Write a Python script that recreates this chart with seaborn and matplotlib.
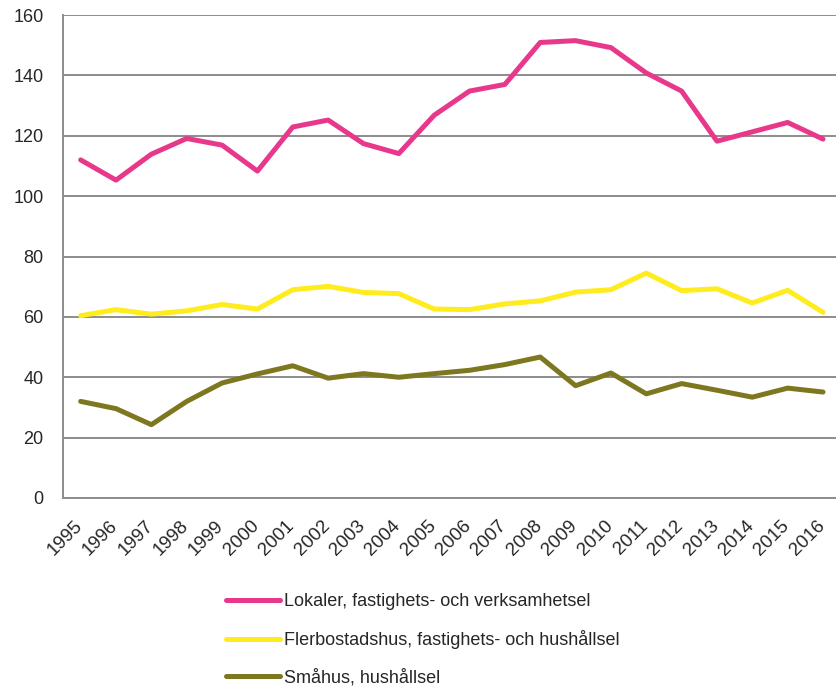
import pandas as pd
import numpy as np
import matplotlib
matplotlib.use('Agg')
import matplotlib.pyplot as plt
from matplotlib.transforms import ScaledTranslation
import seaborn as sns

years = [str(y) for y in range(1995, 2017)]
lokaler = [112.0, 105.3, 113.9, 119.1, 116.9, 108.3, 122.9, 125.2, 117.4, 114.1, 126.8,
           134.8, 137.0, 150.9, 151.5, 149.2, 140.8, 134.8, 118.2, 121.3, 124.4, 118.9]
flerbostad = [60.4, 62.4, 60.9, 62.0, 64.1, 62.6, 69.0, 70.1, 68.1, 67.7, 62.6,
              62.4, 64.3, 65.3, 68.2, 69.0, 74.5, 68.7, 69.3, 64.6, 68.8, 61.5]
smahus = [32.0, 29.6, 24.3, 32.0, 38.1, 41.1, 43.8, 39.7, 41.2, 40.0, 41.2,
          42.3, 44.2, 46.7, 37.2, 41.4, 34.5, 37.9, 35.7, 33.4, 36.4, 35.1]
series = ['Lokaler, fastighets- och verksamhetsel',
          'Flerbostadshus, fastighets- och hushållsel',
          'Småhus, hushållsel']
colors = ['#E8388C', '#FFEC1E', '#7D7820']

sns.set_style('white')
plt.rcParams['font.family'] = ['Liberation Sans', 'DejaVu Sans']

rows = []
for name, vals in zip(series, [lokaler, flerbostad, smahus]):
    for i, v in enumerate(vals):
        rows.append({'pos': i, 'value': v, 'serie': name})
df = pd.DataFrame(rows)

fig = plt.figure(figsize=(8.37, 6.89), dpi=100)
ax = fig.add_axes([63/837, 1-498/689, (840.7-63)/837, (498-15)/689])
sns.lineplot(data=df, x='pos', y='value', hue='serie', hue_order=series,
             palette=colors, linewidth=3.6, ax=ax, legend=True)

ax.set_ylim(0, 160)
ax.set_xlim(-0.5, 21.5)
ax.set_yticks(range(0, 161, 20))
ax.yaxis.grid(True, color='#8c8c8c', linewidth=1.4)
ax.set_axisbelow(True)
ax.set_xticks(range(len(years)))
ax.set_xticklabels(years, rotation=45, ha='right', rotation_mode='anchor')
ax.set_xticks(np.arange(-0.5, 22, 1), minor=True)
ax.tick_params(axis='x', which='major', length=0, pad=14, labelsize=13.5)
ax.tick_params(axis='x', which='minor', length=6, width=1.4, color='#8c8c8c', direction='out')
ax.tick_params(axis='y', length=6, width=1.4, color='#8c8c8c', direction='out', labelsize=13, pad=8)
for lab in ax.get_xticklabels():
    lab.set_transform(lab.get_transform() + ScaledTranslation(-5/72, 0, fig.dpi_scale_trans))
for s in ['top', 'right']:
    ax.spines[s].set_visible(False)
for s in ['left', 'bottom']:
    ax.spines[s].set_color('#8c8c8c')
    ax.spines[s].set_linewidth(1.4)
ax.set_xlabel('')
ax.set_ylabel('')

handles, labels = ax.get_legend_handles_labels()
ax.get_legend().remove()
fig.legend(handles, labels, loc='upper left', bbox_to_anchor=(219/837, 1-586/689),
           frameon=False, fontsize=13, handlelength=3.0, handletextpad=0.2,
           labelspacing=1.1, borderaxespad=0)

plt.savefig('out.png', dpi=100)
